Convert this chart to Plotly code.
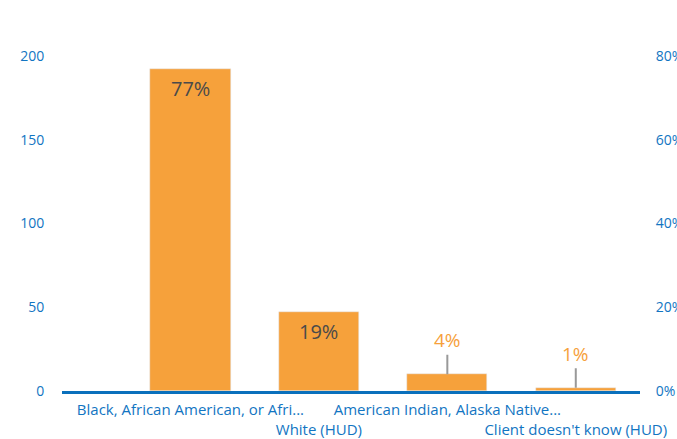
import plotly.graph_objects as go

categories = ["Black, African American, or Afri...", "White (HUD)",
              "American Indian, Alaska Native...", "Client doesn't know (HUD)"]
counts = [192, 47, 10, 2]
pct_labels = ["77%", "19%", "4%", "1%"]
tick_text = ["Black, African American, or Afri...", "<br>White (HUD)",
             "American Indian, Alaska Native...", "<br>Client doesn't know (HUD)"]
left_ticks = [0, 50, 100, 150, 200]
right_ticks = [0, 0.2, 0.4, 0.6, 0.8]

ORANGE = "#F6A13B"
BLUE = "#1275C2"
FONT = "Open Sans"

fig = go.Figure()
fig.add_trace(go.Bar(x=list(range(len(categories))), y=counts, marker_color=ORANGE,
                     width=0.625, hoverinfo="skip", showlegend=False))
fig.add_trace(go.Scatter(x=list(range(len(categories))), y=[c / 250 for c in counts],
                         yaxis="y2", mode="markers", marker=dict(size=0.1, opacity=0),
                         hoverinfo="skip", showlegend=False))

for i, (c, lab) in enumerate(zip(counts, pct_labels)):
    if c > 30:
        fig.add_annotation(x=i, y=c, text=lab, showarrow=False, yanchor="top", yshift=-4,
                           font=dict(family=FONT, size=20, color="#4a4a4a"))
    else:
        fig.add_annotation(x=i, y=c, text=lab, showarrow=True, arrowhead=0, arrowwidth=2,
                           arrowcolor="#999999", ax=0, ay=-34,
                           font=dict(family=FONT, size=19, color=ORANGE))

fig.update_layout(
    width=677, height=439,
    margin=dict(l=62, r=37, t=56, b=48),
    plot_bgcolor="white", paper_bgcolor="white",
    font=dict(family=FONT, size=14, color=BLUE),
    bargap=0,
    xaxis=dict(range=[-1, 3.5], tickvals=list(range(len(categories))), ticktext=tick_text,
               showline=True, linecolor="#0A70BC", linewidth=3, showgrid=False, zeroline=False,
               ticks="outside", ticklen=3, tickcolor="rgba(0,0,0,0)", tickangle=0,
               automargin=False,
               tickfont=dict(family=FONT, size=15, color=BLUE)),
    yaxis=dict(range=[0, 200], tickvals=left_ticks, showgrid=False, zeroline=False,
               ticks="outside", ticklen=14, tickcolor="rgba(0,0,0,0)", automargin=False,
               tickfont=dict(family=FONT, size=14, color=BLUE)),
    yaxis2=dict(range=[0, 0.8], tickvals=right_ticks, tickformat=".0%", overlaying="y",
                side="right", showgrid=False, zeroline=False, automargin=False,
                ticks="outside", ticklen=12, tickcolor="rgba(0,0,0,0)",
                tickfont=dict(family=FONT, size=14, color=BLUE)),
)

fig.write_html("out.html", config={"displayModeBar": False},
               post_script="document.body.style.margin='0';document.body.style.overflow='hidden';")
